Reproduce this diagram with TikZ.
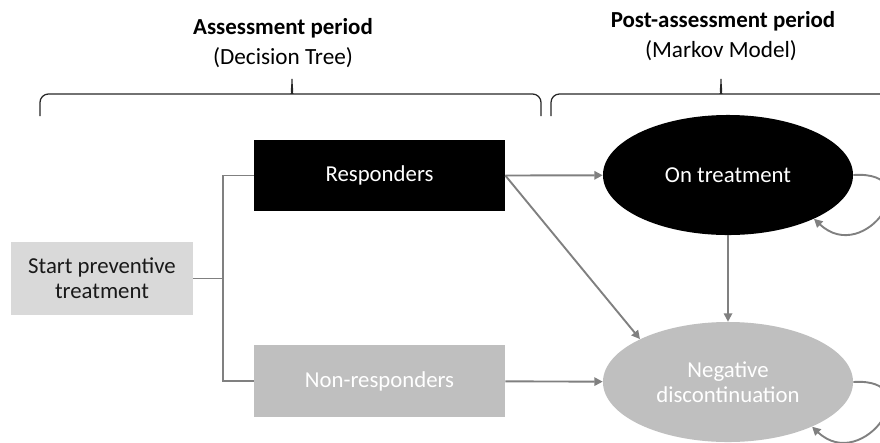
\documentclass[tikz,border=0pt]{standalone}
\usepackage{fontspec}
\setmainfont{Carlito}
\usetikzlibrary{shapes.geometric,arrows.meta}
\definecolor{lightbox}{HTML}{D9D9D9}
\definecolor{midbox}{HTML}{BFBFBF}
\definecolor{linkgray}{HTML}{808080}
\definecolor{bracegray}{HTML}{262626}

\begin{document}
\begin{tikzpicture}[x=0.025cm,y=-0.025cm,
    every node/.style={font=\fontsize{16.2}{17.7}\selectfont},
    box/.style={rectangle,minimum width=6.275cm,minimum height=1.78cm,inner sep=0pt,align=center},
    state/.style={ellipse,minimum width=6.25cm,minimum height=3cm,inner sep=0pt,align=center},
    conn/.style={draw=linkgray,line width=1.35pt},
    flow/.style={conn,-{Triangle[length=6pt,width=6pt]}},
    bracepath/.style={draw=bracegray,line width=0.9pt},
    title/.style={font=\fontsize{16.3}{18}\selectfont\bfseries},
    subtitle/.style={font=\fontsize{16.5}{18}\selectfont}]
  \clip (0,0) rectangle (880,442);

  % headings
  \node[title] (asstitle) at (283,28) {Assessment period};
  \node[subtitle] (asssub) at (283,58) {(Decision Tree)};
  \node[title] (posttitle) at (723,21) {Post-assessment period};
  \node[subtitle] (postsub) at (721,51) {(Markov Model)};

  % braces
  \draw[bracepath, rounded corners=6] (40,116) -- (40,94) -- (285,94)
        .. controls (290,94) and (292,88) .. (292,74)
        .. controls (292,88) and (294,94) .. (299,94) -- (541,94) -- (541,116);
  \draw[bracepath, rounded corners=6] (551,116) -- (551,94) -- (714,94)
        .. controls (719,94) and (721,88) .. (721,74)
        .. controls (721,88) and (723,94) .. (728,94) -- (900,94);

  % decision tree
  \node[box, fill=lightbox, text=black!90, minimum width=4.55cm, minimum height=1.83cm] (start) at (102,278.5) {Start preventive\\treatment};
  \node[box, fill=black, text=white] (resp) at (379.5,175.5) {Responders};
  \node[box, fill=midbox, text=white] (nonresp) at (379.5,381) {Non-responders};
  \coordinate (split) at (223,278.5);

  \draw[conn] (start) -- (split);
  \draw[conn] (split) |- (resp);
  \draw[conn] (split) |- (nonresp);

  % markov states
  \node[state, fill=black, text=white] (ontreat) at (728,175) {On treatment};
  \node[state, fill=midbox, text=white] (negdisc) at (728,382) {Negative\\discontinuation};

  \draw[flow] (resp.east) -- (ontreat);
  \draw[flow] (resp.east) -- (negdisc.154);
  \draw[flow] (ontreat) -- (negdisc);
  \draw[flow] (nonresp) -- (negdisc);

  \draw[flow] (ontreat.east) .. controls +(77,-5) and +(51,48) .. (ontreat.-27);
  \draw[flow] (negdisc.east) .. controls +(77,-5) and +(51,48) .. (negdisc.-28);
\end{tikzpicture}
\end{document}
